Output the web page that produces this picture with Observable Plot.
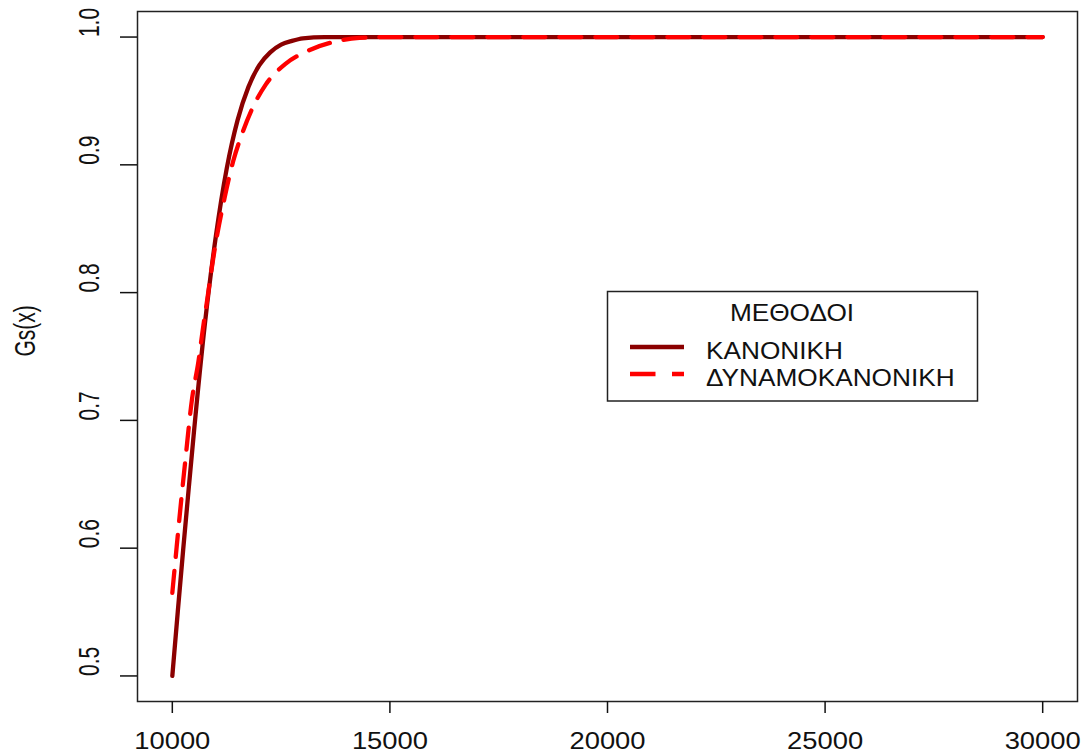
<!DOCTYPE html>
<html>
<head>
<meta charset="utf-8">
<script src="https://cdn.jsdelivr.net/npm/d3@7"></script>
<script src="https://cdn.jsdelivr.net/npm/@observablehq/plot@0.6"></script>
<style>
  body { margin: 0; background: #fff; }
</style>
</head>
<body>
<div id="chart"></div>
<script>
// Distribution functions Gs(x) for the two methods
const seriesNames = ["ΚΑΝΟΝΙΚΗ", "ΔΥΝΑΜΟΚΑΝΟΝΙΚΗ"];
const legendTitle = "ΜΕΘΟΔΟΙ";
const yLabel = "Gs(x)";
const seriesColors = ["#8b0000", "#ff0000"];

const xTicks = [10000, 15000, 20000, 25000, 30000];
const yTicks = [0.5, 0.6, 0.7, 0.8, 0.9, 1.0];

// Normal method
const xNormal = [10000, 10125, 10250, 10375, 10500, 10750, 11000, 11250, 11500, 11750,
                 12000, 12250, 12500, 12750, 13000, 13500, 15000, 20000, 25000, 30000];
const gNormal = [0.500, 0.550, 0.599, 0.646, 0.692, 0.776, 0.844, 0.897, 0.935, 0.961,
                 0.978, 0.988, 0.994, 0.997, 0.999, 1.000, 1.000, 1.000, 1.000, 1.000];

// Normal-power method
const xPower = [10000, 10100, 10200, 10300, 10450, 10600, 10700, 10800, 10950, 11200,
                11400, 11600, 11850, 12150, 12600, 13100, 13750, 14300, 15000, 20000,
                25000, 30000];
const gPower = [0.565, 0.601, 0.636, 0.669, 0.716, 0.746, 0.771, 0.794, 0.829, 0.874,
                0.903, 0.924, 0.945, 0.963, 0.979, 0.989, 0.9965, 0.9993, 1.000, 1.000,
                1.000, 1.000];

const normalRows = xNormal.map((x, i) => ({series: seriesNames[0], x, g: gNormal[i]}));
const powerRows = xPower.map((x, i) => ({series: seriesNames[1], x, g: gPower[i]}));

const plot = Plot.plot({
  width: 1083,
  height: 753,
  marginLeft: 137,
  marginRight: 6,
  marginTop: 11,
  marginBottom: 52,
  style: {
    fontFamily: '"Liberation Sans", Arial, sans-serif',
    background: "#fff",
    color: "#111",
    overflow: "visible"
  },
  x: {domain: [9200, 30800]},
  y: {domain: [0.48, 1.02]},
  color: {domain: seriesNames, range: seriesColors},
  marks: [
    Plot.line(normalRows, {x: "x", y: "g", stroke: "series", strokeWidth: 4.3, curve: "monotone-x"}),
    Plot.line(powerRows, {x: "x", y: "g", stroke: "series", strokeWidth: 4.3, curve: "monotone-x",
                          strokeDasharray: "22,14"}),
    Plot.frame({stroke: "#222", strokeWidth: 1.5}),
    Plot.axisX({ticks: xTicks, tickSize: 12, tickPadding: 18, fontSize: 24,
                tickFormat: d3.format("d"), label: null, stroke: "#111", strokeWidth: 1.5}),
    Plot.axisY({ticks: yTicks, tickSize: 17, tickFormat: () => "", label: null,
                stroke: "#111", strokeWidth: 1.5}),
    Plot.text(yTicks, {y: d => d, text: d => d.toFixed(1), frameAnchor: "left", dx: -48,
                       rotate: -90, fontSize: 21, fill: "#111"}),
    Plot.text([yLabel], {text: d => d, frameAnchor: "left", dx: -112, rotate: -90,
                         fontSize: 21, fill: "#111"})
  ]
});

document.getElementById("chart").appendChild(plot);

// widen the glyphs a little, keeping each label on its anchor
const svg = d3.select(plot);
svg.selectAll('g[aria-label="x-axis tick label"] text').each(function() {
  const t = this.getAttribute("transform") || "";
  this.setAttribute("transform", t + " scale(1.14,1)");
});
// rotated labels: in their own frame, local y runs across the screen
svg.selectAll("text").each(function() {
  const t = this.getAttribute("transform") || "";
  const own = t.includes("rotate(-90)");
  const parent = (this.parentNode && this.parentNode.getAttribute && this.parentNode.getAttribute("transform")) || "";
  if (own || parent.includes("rotate(-90)")) {
    this.setAttribute("transform", t + " scale(1,1.4)");
  }
});

// legend box inside the plotting area
const legend = svg.append("g")
  .attr("font-family", '"Liberation Sans", Arial, sans-serif')
  .attr("font-size", 23)
  .attr("fill", "#111");

legend.append("rect")
  .attr("x", 607.5).attr("y", 291.5)
  .attr("width", 370).attr("height", 109.5)
  .attr("fill", "#fff").attr("stroke", "#222").attr("stroke-width", 1.5);

legend.append("text")
  .attr("text-anchor", "middle")
  .attr("transform", "translate(792,320.8) scale(1.14,1)")
  .text(legendTitle);

const entryY = [347, 374];
const entryDash = [null, "25.5,16.5"];
seriesNames.forEach((name, i) => {
  const ln = legend.append("line")
    .attr("x1", 630).attr("x2", 684)
    .attr("y1", entryY[i]).attr("y2", entryY[i])
    .attr("stroke", seriesColors[i]).attr("stroke-width", 4.3);
  if (entryDash[i]) ln.attr("stroke-dasharray", entryDash[i]);
  legend.append("text")
    .attr("text-anchor", "start")
    .attr("transform", `translate(706,${entryY[i] + 12}) scale(1.14,1)`)
    .text(name);
});
</script>
</body>
</html>
